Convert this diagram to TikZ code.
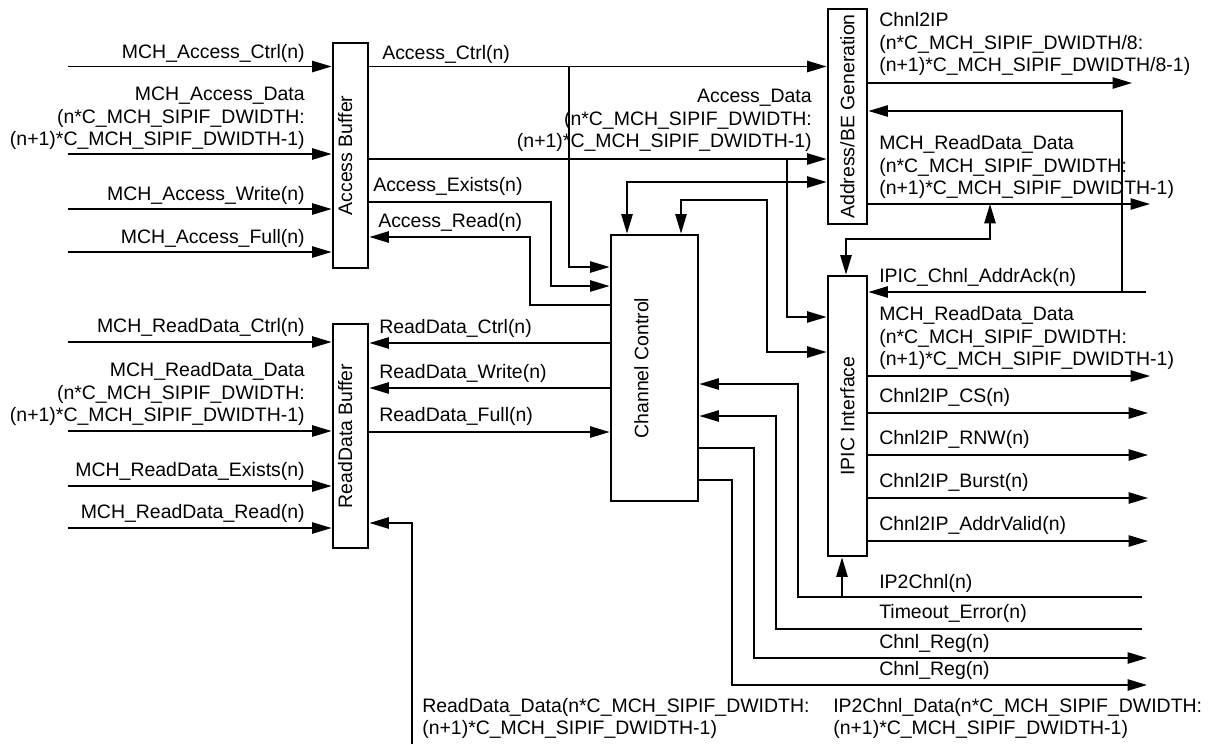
\documentclass[tikz,border=0pt]{standalone}
\usepackage{fontspec}
\setmainfont{Liberation Sans}
\usetikzlibrary{arrows.meta, positioning, calc, fit}

\begin{document}
\begin{tikzpicture}[x=0.75pt, y=-0.75pt,
	font=\fontsize{14.6}{17}\selectfont,
	blk/.style={draw, line width=2.2pt, inner sep=0pt},
	blktxt/.style={rotate=90, inner sep=0pt},
	sig/.style={line width=1pt},
	arr/.style={sig, -{Triangle[length=14.5pt, width=8.5pt]}},
	biarr/.style={sig, {Triangle[length=14.5pt, width=8.5pt]}-{Triangle[length=14.5pt, width=8.5pt]}},
	lblL/.style={anchor=south west, inner sep=0pt, align=left},
	lblR/.style={anchor=south east, inner sep=0pt, align=right}]
	\path[fill=white, use as bounding box] (0,0) rectangle (1216,744);

	\node[blk, fit={(333,43) (368,268)}] (accbuf) {};
	\node[blk, fit={(333,324) (368,548)}] (rdbuf) {};
	\node[blk, fit={(611,235) (698,501)}] (chctl) {};
	\node[blk, fit={(828,9) (867,224)}] (addrgen) {};
	\node[blk, fit={(828,276) (867,556)}] (ipic) {};
	\node[blktxt, yshift=4pt] (accbuf-t) at (accbuf.center) {Access Buffer};
	\node[blktxt, yshift=4pt] (rdbuf-t) at (rdbuf.center) {ReadData Buffer};
	\node[blktxt, yshift=9.75pt] (chctl-t) at (chctl.center) {Channel Control};
	\node[blktxt] (addrgen-t) at (addrgen.center) {Address/BE Generation};
	\node[blktxt] (ipic-t) at (ipic.center) {IPIC Interface};

	\coordinate (mac) at (68,66.5);
	\coordinate (mad) at (68,154);
	\coordinate (maw) at (68,209);
	\coordinate (maf) at (68,252);
	\coordinate (mrc) at (68,342);
	\coordinate (mrd) at (68,431);
	\coordinate (mre) at (68,486);
	\coordinate (mrr) at (68,528);
	\coordinate (c2ip) at (1132,83);
	\coordinate (rdo) at (1150,204);
	\coordinate (ack) at (1146,292);
	\coordinate (rdi) at (1150,376);
	\coordinate (cs) at (1148,413);
	\coordinate (rnw) at (1148,455);
	\coordinate (burst) at (1148,498);
	\coordinate (avalid) at (1148,541);
	\coordinate (ip2c) at (1142,597);
	\coordinate (tmo) at (1142,629);
	\coordinate (reg1) at (1147,658);
	\coordinate (reg2) at (1147,685);
	\coordinate (rdd) at (412,744);

	\draw[arr] (mac) -- (mac -| accbuf.west);
	\draw[arr] (mad) -- (mad -| accbuf.west);
	\draw[arr] (maw) -- (maw -| accbuf.west);
	\draw[arr] (maf) -- (maf -| accbuf.west);
	\draw[arr] (mrc) -- (mrc -| rdbuf.west);
	\draw[arr] (mrd) -- (mrd -| rdbuf.west);
	\draw[arr] (mre) -- (mre -| rdbuf.west);
	\draw[arr] (mrr) -- (mrr -| rdbuf.west);

	\draw[arr] (accbuf.east |- mac) -- (addrgen.west |- mac);
	\draw[arr] (569,66.5) |- (chctl.west |- 0,267);
	\draw[arr] (accbuf.east |- 0,159) -- (addrgen.west |- 0,159);
	\draw[arr] (787,159) |- (ipic.west |- 0,317);
	\draw[arr] (accbuf.east |- 0,202) -- (551,202) |- (chctl.west |- 0,286);
	\draw[arr] (chctl.west |- 0,305) -- (530,305) |- (accbuf.east |- 0,237);
	\draw[biarr] (627,0 |- chctl.north) |- (addrgen.west |- 0,182);
	\draw[biarr] (681,0 |- chctl.north) -- (681,200) -| (767,352) -- (ipic.west |- 0,352);

	\draw[arr] (addrgen.east |- c2ip) -- (c2ip);
	\draw[arr] (ack) -- (ipic.east |- ack);
	\draw[arr] (1122,292) |- (addrgen.east |- 0,111);
	\draw[arr] (addrgen.east |- rdo) -- (rdo);
	\draw[biarr] (846,0 |- ipic.north) |- (990,239) -- (990,204);

	\draw[arr] (ipic.east |- rdi) -- (rdi);
	\draw[arr] (ipic.east |- cs) -- (cs);
	\draw[arr] (ipic.east |- rnw) -- (rnw);
	\draw[arr] (ipic.east |- burst) -- (burst);
	\draw[arr] (ipic.east |- avalid) -- (avalid);

	\draw[arr] (ip2c) -- (798,597) |- (chctl.east |- 0,384);
	\draw[arr] (842,597) -- (842,0 |- ipic.south);
	\draw[arr] (tmo) -- (776,629) |- (chctl.east |- 0,416);
	\draw[arr] (chctl.east |- 0,448) -| (754,658) -- (reg1);
	\draw[arr] (chctl.east |- 0,480) -| (732,685) -- (reg2);

	\draw[arr] (chctl.west |- 0,343) -- (rdbuf.east |- 0,343);
	\draw[arr] (chctl.west |- 0,388) -- (rdbuf.east |- 0,388);
	\draw[arr] (rdbuf.east |- 0,432) -- (chctl.west |- 0,432);
	\draw[arr] (rdd) |- (rdbuf.east |- 0,523);

	\node[lblR] (t-mac) at (305,63) {MCH\_Access\_Ctrl(n)};
	\node[lblR] (t-mad) at (305,150) {MCH\_Access\_Data\\(n*C\_MCH\_SIPIF\_DWIDTH:\\(n+1)*C\_MCH\_SIPIF\_DWIDTH-1)};
	\node[lblR] (t-maw) at (305,205) {MCH\_Access\_Write(n)};
	\node[lblR] (t-maf) at (305,248) {MCH\_Access\_Full(n)};
	\node[lblR] (t-mrc) at (305,337) {MCH\_ReadData\_Ctrl(n)};
	\node[lblR] (t-mrd) at (305,426) {MCH\_ReadData\_Data\\(n*C\_MCH\_SIPIF\_DWIDTH:\\(n+1)*C\_MCH\_SIPIF\_DWIDTH-1)};
	\node[lblR] (t-mre) at (305,481) {MCH\_ReadData\_Exists(n)};
	\node[lblR] (t-mrr) at (305,523) {MCH\_ReadData\_Read(n)};

	\node[lblL] (t-actrl) at (382,63.5) {Access\_Ctrl(n)};
	\node[lblR] (t-adata) at (812,152) {Access\_Data\\(n*C\_MCH\_SIPIF\_DWIDTH:\\(n+1)*C\_MCH\_SIPIF\_DWIDTH-1)};
	\node[lblL] (t-aexist) at (373,196) {Access\_Exists(n)};
	\node[lblL] (t-aread) at (378,232) {Access\_Read(n)};
	\node[lblL] (t-rctrl) at (379,338) {ReadData\_Ctrl(n)};
	\node[lblL] (t-rwrite) at (379,383) {ReadData\_Write(n)};
	\node[lblL] (t-rfull) at (379,426) {ReadData\_Full(n)};

	\node[lblL] (t-c2ip) at (879,76) {Chnl2IP\\(n*C\_MCH\_SIPIF\_DWIDTH/8:\\(n+1)*C\_MCH\_SIPIF\_DWIDTH/8-1)};
	\node[lblL] (t-rdo) at (879,199) {MCH\_ReadData\_Data\\(n*C\_MCH\_SIPIF\_DWIDTH:\\(n+1)*C\_MCH\_SIPIF\_DWIDTH-1)};
	\node[lblL] (t-ack) at (879,287) {IPIC\_Chnl\_AddrAck(n)};
	\node[lblL] (t-rdi) at (879,370) {MCH\_ReadData\_Data\\(n*C\_MCH\_SIPIF\_DWIDTH:\\(n+1)*C\_MCH\_SIPIF\_DWIDTH-1)};
	\node[lblL] (t-cs) at (879,407) {Chnl2IP\_CS(n)};
	\node[lblL] (t-rnw) at (879,449) {Chnl2IP\_RNW(n)};
	\node[lblL] (t-burst) at (879,492) {Chnl2IP\_Burst(n)};
	\node[lblL] (t-avalid) at (879,535) {Chnl2IP\_AddrValid(n)};
	\node[lblL] (t-ip2c) at (879,593) {IP2Chnl(n)};
	\node[lblL] (t-tmo) at (879,623) {Timeout\_Error(n)};
	\node[lblL] (t-reg1) at (879,653) {Chnl\_Reg(n)};
	\node[lblL] (t-reg2) at (879,680) {Chnl\_Reg(n)};

	\node[lblL] (t-rdd) at (422,739) {ReadData\_Data(n*C\_MCH\_SIPIF\_DWIDTH:\\(n+1)*C\_MCH\_SIPIF\_DWIDTH-1)};
	\node[lblL] (t-ip2cd) at (833,739) {IP2Chnl\_Data(n*C\_MCH\_SIPIF\_DWIDTH:\\(n+1)*C\_MCH\_SIPIF\_DWIDTH-1)};
\end{tikzpicture}
\end{document}
